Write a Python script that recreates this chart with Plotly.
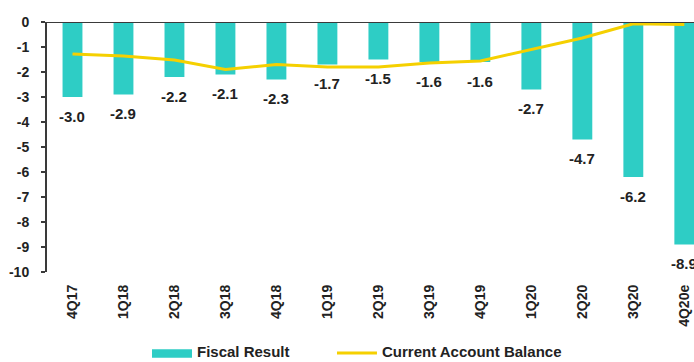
import plotly.graph_objects as go

quarters = ["4Q17", "1Q18", "2Q18", "3Q18", "4Q18", "1Q19", "2Q19",
            "3Q19", "4Q19", "1Q20", "2Q20", "3Q20", "4Q20e"]
fiscal_result = [-3.0, -2.9, -2.2, -2.1, -2.3, -1.7, -1.5,
                 -1.6, -1.6, -2.7, -4.7, -6.2, -8.9]
current_account = [-1.28, -1.36, -1.52, -1.9, -1.7, -1.8, -1.8,
                   -1.64, -1.56, -1.1, -0.64, -0.07, -0.1]
y_ticks = [0, -1, -2, -3, -4, -5, -6, -7, -8, -9, -10]

TEAL = "#2ECDC5"
YELLOW = "#F5D000"
INK = "#222222"
AXIS = "#3a3a3a"
FONT = "Arial"

fig = go.Figure()
fig.add_trace(go.Bar(
    x=quarters, y=fiscal_result, name="Fiscal Result",
    marker=dict(color=TEAL, line=dict(width=0)),
))
fig.add_trace(go.Scatter(
    x=quarters, y=current_account, name="Current Account Balance",
    mode="lines", line=dict(color=YELLOW, width=3),
))

# value labels under each bar end
for q, v in zip(quarters, fiscal_result):
    fig.add_annotation(
        x=q, y=v, text=f"<b>{v:.1f}</b>", showarrow=False,
        yshift=-19, font=dict(family=FONT, size=15, color=INK),
    )

# legend drawn beneath the axis: wide swatches followed by bold labels
fig.add_shape(type="rect", xref="paper", yref="paper",
              x0=0.1623, x1=0.2241, y0=-0.343, y1=-0.309,
              fillcolor=TEAL, line=dict(width=0))
fig.add_annotation(xref="paper", yref="paper", x=0.2287, y=-0.318,
                   xanchor="left", yanchor="middle", showarrow=False,
                   text="<b>Fiscal Result</b>",
                   font=dict(family=FONT, size=15, color=INK))
fig.add_shape(type="line", xref="paper", yref="paper",
              x0=0.4482, x1=0.5100, y0=-0.324, y1=-0.324,
              line=dict(color=YELLOW, width=3))
fig.add_annotation(xref="paper", yref="paper", x=0.5147, y=-0.318,
                   xanchor="left", yanchor="middle", showarrow=False,
                   text="<b>Current Account Balance</b>",
                   font=dict(family=FONT, size=15, color=INK))

fig.update_layout(
    width=694, height=362,
    margin=dict(l=47, r=0, t=22, b=90),
    paper_bgcolor="white", plot_bgcolor="white",
    bargap=0.61,
    showlegend=False,
    font=dict(family=FONT, size=14, color=INK),
)
fig.update_xaxes(
    type="category", range=[-0.5, 12.19], tickangle=-90,
    tickfont=dict(family=FONT, size=14, color=INK, weight="bold"),
    ticklabelstandoff=9,
    showgrid=False, showline=False, ticks="",
)
fig.update_yaxes(
    range=[-10, 0], tickvals=y_ticks, ticktext=[str(t) for t in y_ticks],
    showgrid=False,
    showline=True, linecolor=AXIS, linewidth=2,
    ticks="outside", ticklen=4, tickcolor=AXIS, tickwidth=1.5,
    ticklabelstandoff=9,
    tickfont=dict(family=FONT, size=14, color=INK, weight="bold"),
    zeroline=False,
)
# zero reference line across the top of the plot
fig.add_hline(y=0, line=dict(color=AXIS, width=2))

fig.write_html("out.html")
